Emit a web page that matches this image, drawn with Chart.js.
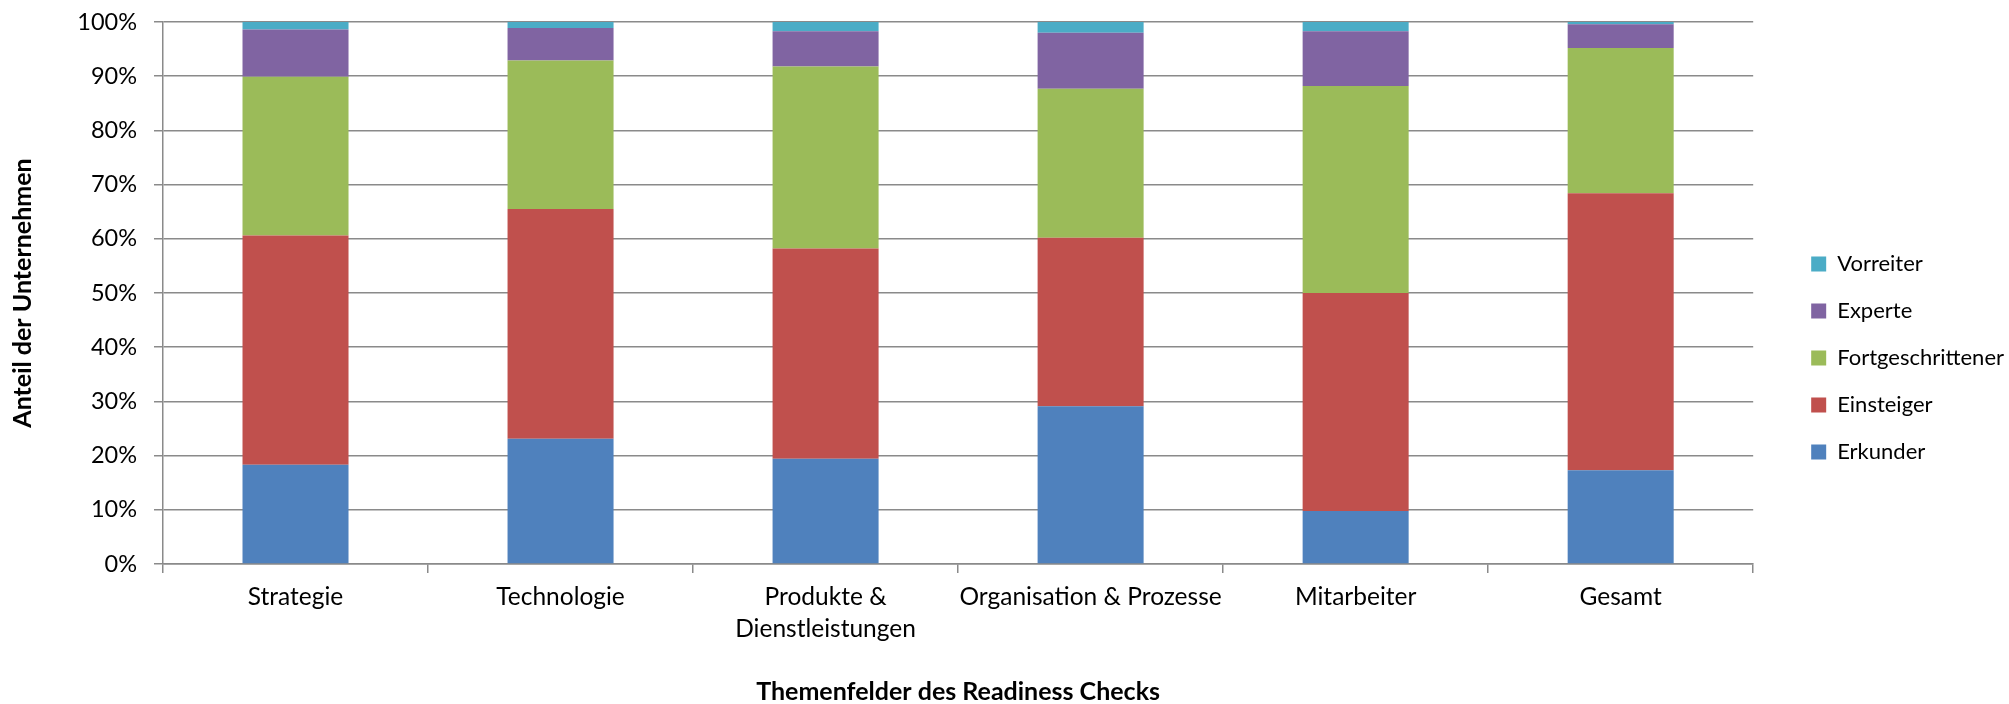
<!DOCTYPE html>
<html>
<head>
<meta charset="utf-8">
<script src="https://cdn.jsdelivr.net/npm/chart.js@4/dist/chart.umd.min.js"></script>
<style>
  body { margin: 0; background: #fff; }
  #wrap { width: 2009px; height: 704px; }
</style>
</head>
<body>
<div id="wrap"><canvas id="myChart"></canvas></div>
<script>
// categories (x axis)
const themen = ['Strategie', 'Technologie', ['Produkte &', 'Dienstleistungen'], 'Organisation & Prozesse', 'Mitarbeiter', 'Gesamt']
// share of companies per level, in percent
const erkunder          = [18.3, 23.1, 19.4, 29.1,  9.8, 17.3]
const einsteiger        = [42.3, 42.4, 38.8, 31.1, 40.2, 51.1]
const fortgeschrittener = [29.3, 27.4, 33.6, 27.5, 38.2, 26.8]
const experte           = [ 8.7,  6.0,  6.5, 10.3, 10.1,  4.4]
const vorreiter         = [ 1.4,  1.1,  1.7,  2.0,  1.7,  0.4]
const yTicks = [0, 10, 20, 30, 40, 50, 60, 70, 80, 90, 100]

const gridGrey = '#8a8a8a'
const font = 'Lato'

// widen the legend box so the plot ends left of it, but keep the items where they were
const legendGap = {
  id: 'legendGap',
  beforeLayout(chart) {
    const lg = chart.legend
    if (lg && !lg._gapPatched) {
      const fit = lg.fit
      lg.fit = function () { fit.call(this); this.width += 28 }
      lg._gapPatched = true
    }
  },
  afterLayout(chart) {
    const lg = chart.legend
    if (!lg) return
    lg.left += 33
    lg.top -= 5
    lg.bottom -= 5
  }
}

const ctx = document.getElementById('myChart').getContext('2d')
const Graph = new Chart(ctx, {
  type: 'bar',
  data: {
    labels: themen,
    datasets: [
      { label: 'Erkunder', data: erkunder, backgroundColor: '#4F81BD' },
      { label: 'Einsteiger', data: einsteiger, backgroundColor: '#C0504D' },
      { label: 'Fortgeschrittener', data: fortgeschrittener, backgroundColor: '#9BBB59' },
      { label: 'Experte', data: experte, backgroundColor: '#8064A2' },
      { label: 'Vorreiter', data: vorreiter, backgroundColor: '#4BACC6' }
    ]
  },
  options: {
    responsive: true,
    maintainAspectRatio: false,
    animation: false,
    categoryPercentage: 1,
    barPercentage: 0.4,
    layout: { padding: { top: 22, left: 0, right: 0, bottom: 0 } },
    plugins: {
      legend: {
        position: 'right',
        reverse: true,
        labels: {
          boxWidth: 15,
          boxHeight: 15,
          padding: 25,
          color: '#000',
          font: { family: font, size: 22 }
        }
      },
      tooltip: { enabled: false }
    },
    scales: {
      x: {
        stacked: true,
        afterFit: (scale) => { scale.height = 140 },
        grid: {
          offset: true,
          drawOnChartArea: false,
          drawTicks: true,
          tickLength: 9,
          color: gridGrey,
          lineWidth: 1.5
        },
        border: { color: gridGrey, width: 1.5 },
        ticks: {
          color: '#000',
          padding: 9,
          maxRotation: 0,
          autoSkip: false,
          font: { family: font, size: 24.5, lineHeight: 1.27 }
        },
        title: {
          display: true,
          text: 'Themenfelder des Readiness Checks',
          color: '#000',
          padding: { top: 0, bottom: 0 },
          font: { family: font, size: 25, weight: 'bold', lineHeight: 1 }
        }
      },
      y: {
        stacked: true,
        min: 0,
        max: 100,
        afterFit: (scale) => {
          scale.width = 163
          // labels may stick out above the top line, no extra room needed
          scale.paddingTop = 0
        },
        afterBuildTicks: (scale) => { scale.ticks = yTicks.map(v => ({ value: v })) },
        grid: {
          color: gridGrey,
          lineWidth: 1.5,
          tickLength: 9
        },
        border: { color: gridGrey, width: 1.5 },
        ticks: {
          color: '#000',
          padding: 17,
          font: { family: font, size: 23.5 },
          callback: (v) => v + '%'
        },
        title: {
          display: true,
          text: 'Anteil der Unternehmen',
          color: '#000',
          padding: { top: 8, bottom: 0 },
          font: { family: font, size: 25, weight: 'bold' }
        }
      }
    }
  },
  plugins: [legendGap]
})
</script>
</body>
</html>
